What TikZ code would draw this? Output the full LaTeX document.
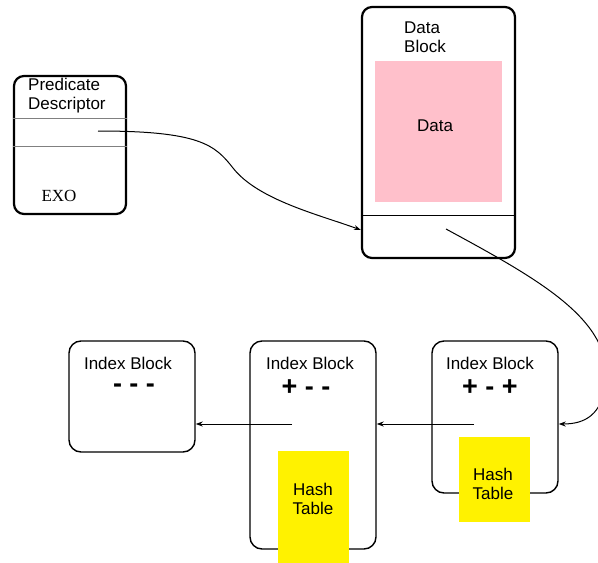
\documentclass[tikz,border=0pt]{standalone}
\usepackage{fontspec}
\setmainfont{Liberation Serif}
\setsansfont{Liberation Sans}
\usetikzlibrary{arrows.meta}
\definecolor{datapink}{RGB}{255,192,203}

\begin{document}
\begin{tikzpicture}[x=1pt,y=-1pt,
  heavybox/.style={draw,rounded corners=10pt,line width=2.2pt,inner sep=0pt},
  idxbox/.style={draw,rounded corners=12pt,line width=1.4pt,inner sep=0pt,
                 minimum width=126pt},
  lbl/.style={font=\sffamily\fontsize{17}{18.5}\selectfont,align=left,inner sep=0pt},
  sign/.style={font=\sffamily\bfseries\fontsize{27}{28}\selectfont,inner sep=0pt},
  hashbox/.style={fill=yellow,inner sep=0pt,minimum width=71pt},
  ptr/.style={-{Stealth[length=7pt,width=5pt]},line width=1pt}]

\useasboundingbox (0,0) rectangle (598,563);
\clip (0,0) rectangle (598,563);

% predicate descriptor
\node[heavybox,minimum width=112pt,minimum height=138pt] (pd) at (70,145) {};
\draw[gray,line width=0.8pt] (pd.west |- 0,118) -- (pd.east |- 0,118);
\draw[gray,line width=0.8pt] (pd.west |- 0,146) -- (pd.east |- 0,146);
\node[lbl,anchor=north west] (pdlbl) at (28,78) {Predicate\\Descriptor};
\node[font=\rmfamily\fontsize{17}{18}\selectfont,inner sep=0pt] (exo) at (59,196) {EXO};
\coordinate (pdptr) at (98,131);

% data block
\node[heavybox,minimum width=153pt,minimum height=251pt] (db) at (438.5,132.5) {};
\draw[line width=0.8pt] (db.west |- 0,215) -- (db.east |- 0,215);
\node[lbl,anchor=north west] (dblbl) at (404,22) {Data\\Block};
\node[fill=datapink,minimum width=127pt,minimum height=141pt,inner sep=0pt] (data) at (438.5,131.5) {};
\node[lbl] (datalbl) at (435,126) {Data};
\coordinate (dbptr) at (446,229);

% index blocks
\node[idxbox,minimum height=111pt] (ib1) at (132,396.5) {};
\node[idxbox,minimum height=208pt] (ib2) at (313,445) {};
\node[idxbox,minimum height=152pt] (ib3) at (495,417) {};

\node[lbl] (ib1lbl) at (128,363) {Index Block};
\node[lbl] (ib2lbl) at (310,363) {Index Block};
\node[lbl] (ib3lbl) at (490,363) {Index Block};
\node[sign] (ib1sign) at (134,388) {- - -};
\node[sign] (ib2sign) at (306,388) {+ - -};
\node[sign] (ib3sign) at (490,388) {+ - +};

% hash tables
\node[hashbox,minimum height=112pt] (ht2) at (313.5,507) {};
\node[lbl,align=center] at (313,499) {Hash\\Table};
\node[hashbox,minimum height=85pt] (ht3) at (494.5,479.5) {};
\node[lbl,align=center] at (493,484) {Hash\\Table};

\coordinate (ib2ptr) at (292,424);
\coordinate (ib3ptr) at (474,424);

% pointers
\draw[ptr] (pdptr) .. controls (200,131) and (215,145) .. (233,168)
  .. controls (258,200) and (320,215) .. (db.west |- 0,230);
\draw[ptr] (dbptr) .. controls (540,280) and (612,320) .. (606,382)
  .. controls (602,415) and (585,424) .. (ib3.east |- 0,424);
\draw[ptr] (ib3ptr) -- (ib2.east |- ib3ptr);
\draw[ptr] (ib2ptr) -- (ib1.east |- ib2ptr);
\end{tikzpicture}
\end{document}
